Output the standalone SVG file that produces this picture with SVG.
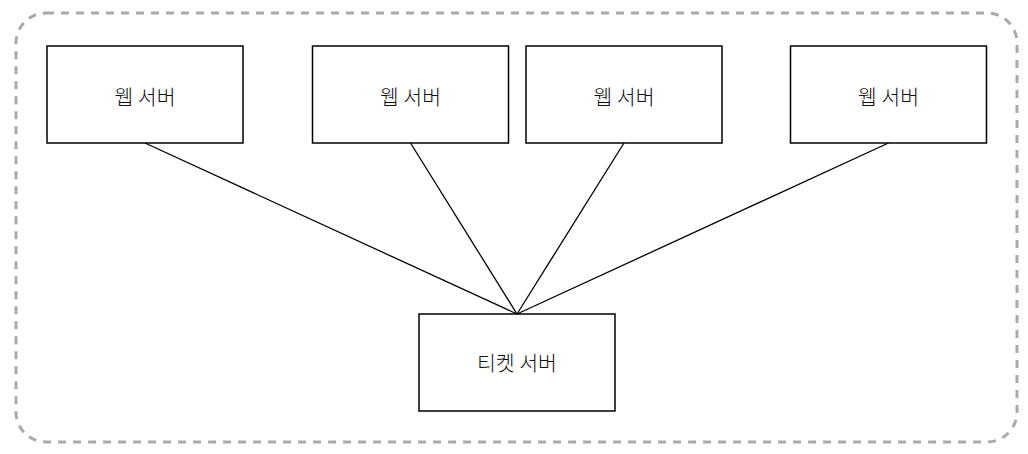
<svg xmlns="http://www.w3.org/2000/svg" width="1028" height="454" viewBox="0 0 1028 454">
<style>
.box{fill:#fff;stroke:#000;stroke-width:1.5}
.lbl{font-family:"Noto Sans CJK KR","Noto Sans",sans-serif;font-size:20.5px;font-weight:300;fill:#111;text-anchor:middle;dominant-baseline:central}
.edge{stroke:#000;stroke-width:1.3;fill:none}
</style>
<rect x="16" y="13" width="1001" height="429" rx="30" ry="30" fill="none" stroke="#aaa" stroke-width="3" stroke-dasharray="8 7"/>
<g id="connectors">
<line class="edge" x1="145" y1="143" x2="517" y2="314"/>
<line class="edge" x1="410.5" y1="143" x2="517" y2="314"/>
<line class="edge" x1="624" y1="143" x2="517" y2="314"/>
<line class="edge" x1="888.5" y1="143" x2="517" y2="314"/>
</g>
<g id="web1"><rect class="box" x="47" y="46" width="196" height="97"/><text class="lbl" x="145" y="96">웹 서버</text></g>
<g id="web2"><rect class="box" x="312.5" y="46" width="196" height="97"/><text class="lbl" x="410.5" y="96">웹 서버</text></g>
<g id="web3"><rect class="box" x="526" y="46" width="196" height="97"/><text class="lbl" x="624" y="96">웹 서버</text></g>
<g id="web4"><rect class="box" x="790.5" y="46" width="196" height="97"/><text class="lbl" x="888.5" y="96">웹 서버</text></g>
<g id="ticket"><rect class="box" x="419" y="314" width="196" height="97"/><text class="lbl" x="517" y="362">티켓 서버</text></g>
</svg>
